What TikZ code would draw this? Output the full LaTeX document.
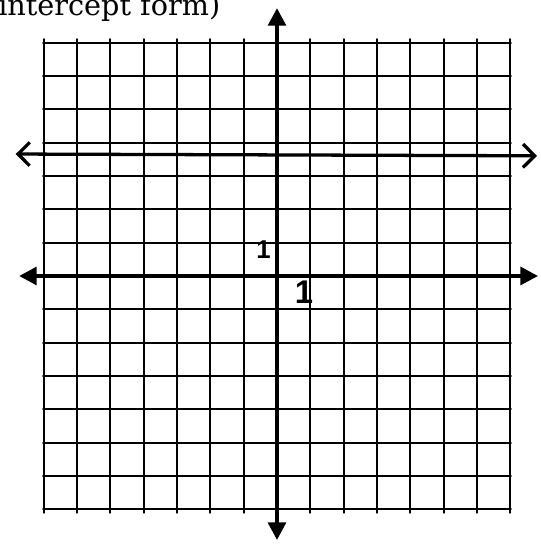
\documentclass[tikz,border=0pt]{standalone}
\usepackage{fontspec}
\newfontfamily\titlefont{DejaVu Serif}
\newfontfamily\handfont{Liberation Sans}
\usetikzlibrary{arrows.meta}
\begin{document}
\begin{tikzpicture}[x=0.78cm, y=0.888cm, line join=round, line cap=round,
        axisline/.style={line width=3.4pt, -{Triangle[length=15pt,width=15pt]}},
        handline/.style={line width=2.8pt, {Straight Barb[length=10pt,width=20pt]}-{Straight Barb[length=10pt,width=20pt]}}]
            \def \xmin{-9}
            \def \xmax{9}
            \def \ymin{-8}
            \def \ymax{8}
            \useasboundingbox (-10.654,-9.257) rectangle (10.115,9.324);
            \node[anchor=base west, inner sep=0pt, font=\titlefont\fontsize{24.5}{24.5}\selectfont] (title) at (-10.73,8.8) {intercept form)};
            \draw[line width=1.6pt] (\xmin,\ymin) grid (\xmax,\ymax);
            \draw[axisline] (0,0)--(10.04,0);
            \draw[axisline] (0,0)--(-9.92,0);
            \draw[axisline] (0,0)--(0,9.05);
            \draw[axisline] (0,0)--(0,-8.92);
            % handwritten line y=4
            \draw[handline] (-10.05,4.12)--(10.0,4.06);
            \node[inner sep=0pt, font=\handfont\bfseries\fontsize{22}{22}\selectfont] (yone) at (-0.52,0.9) {1};
            \node[inner sep=0pt, font=\handfont\bfseries\fontsize{28}{28}\selectfont] (xone) at (1.04,-0.54) {1};
        \end{tikzpicture}
\end{document}
